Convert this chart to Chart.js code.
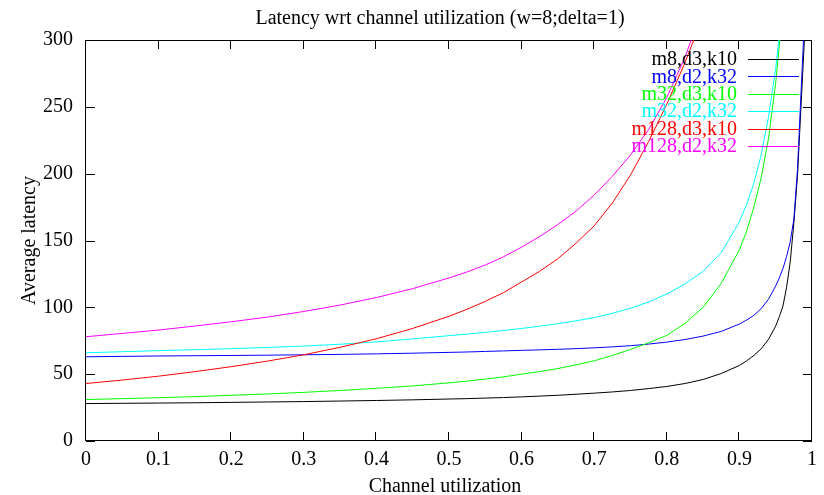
<!DOCTYPE html>
<html>
<head>
<meta charset="utf-8">
<script src="https://cdn.jsdelivr.net/npm/chart.js@4.4.1/dist/chart.umd.min.js"></script>
<style>
  html, body { margin: 0; padding: 0; background: #fff; }
  canvas { display: block; }
</style>
</head>
<body>
<canvas id="chart" width="824" height="495"></canvas>
<script>
// Channel utilization samples (shared x values for every curve)
const utilization = [0, 0.05, 0.1, 0.15, 0.2, 0.25, 0.3, 0.35, 0.4, 0.45, 0.5,
  0.525, 0.55, 0.575, 0.6, 0.625, 0.65, 0.675, 0.7, 0.725, 0.75, 0.775, 0.8, 0.825, 0.85, 0.875, 0.9,
  0.91, 0.92, 0.93, 0.94, 0.95, 0.955, 0.96, 0.965, 0.97, 0.975, 0.98, 0.985, 0.99];

// Average latency per configuration (null = curve has already left the plot)
const m8d3k10 = [28, 28.2, 28.4, 28.6, 28.9, 29.2, 29.5, 29.9, 30.3, 30.8, 31.4,
  31.7, 32.1, 32.5, 33, 33.6, 34.2, 35, 35.8, 36.7, 37.8, 39.2, 40.8, 43, 46, 50.5, 56.5,
  60, 64, 69, 76, 86, 93, 101, 115, 134, 163, 198, 252, 305];
const m8d2k32 = [63, 63.3, 63.6, 63.8, 64, 64.2, 64.5, 64.8, 65.2, 65.7, 66.3,
  66.6, 67, 67.4, 67.8, 68.2, 68.6, 69.1, 69.7, 70.4, 71.3, 72.5, 74, 75.9, 78.5, 82, 87.5,
  90.5, 94, 99, 106, 116, 122, 129, 138, 149, 166, 203, 262, 320];
const m32d3k10 = [31, 31.7, 32.4, 33.2, 34.2, 35.2, 36.4, 37.8, 39.4, 41.2, 43.5,
  44.8, 46.3, 48, 50, 52, 54.2, 57, 60, 64, 68.5, 73.5, 79, 88, 100, 118, 143,
  157, 175, 197, 226, 268, 296, 330, null, null, null, null, null, null];
const m32d2k32 = [66, 66.8, 67.6, 68.3, 69.1, 70, 71, 72.4, 74.1, 76.4, 78.8,
  80, 81.3, 82.7, 84.2, 85.9, 87.8, 89.9, 92.3, 95.5, 99.3, 104, 110, 117.5, 127, 141, 164,
  177, 193, 214, 242, 279, 303, null, null, null, null, null, null, null];
const m128d3k10 = [43, 45.6, 48.5, 51.9, 55.6, 59.8, 64.5, 70.1, 76.5, 84.2, 93.3,
  98.6, 104.5, 111, 119, 127, 136.4, 148, 161, 178, 199, 224, 252, 283, 318, null, null,
  null, null, null, null, null, null, null, null, null, null, null, null, null];
const m128d2k32 = [78, 80.5, 83, 86, 89.2, 92.7, 96.9, 101.7, 107.3, 114, 122,
  126.5, 131.7, 137.8, 145, 153, 162, 172, 184, 198, 214, 233, 257, 287, 325, null, null,
  null, null, null, null, null, null, null, null, null, null, null, null, null];

const seriesLabels = ['m8,d3,k10', 'm8,d2,k32', 'm32,d3,k10', 'm32,d2,k32', 'm128,d3,k10', 'm128,d2,k32'];
const seriesValues = [m8d3k10, m8d2k32, m32d3k10, m32d2k32, m128d3k10, m128d2k32];
const seriesColors = ['#000000', '#0000ff', '#00ff00', '#00ffff', '#ff0000', '#ff00ff'];

const xTicks = [0, 0.1, 0.2, 0.3, 0.4, 0.5, 0.6, 0.7, 0.8, 0.9, 1];
const yTicks = [0, 50, 100, 150, 200, 250, 300];

const chartTitle = 'Latency wrt channel utilization (w=8;delta=1)';
const xTitle = 'Channel utilization';
const yTitle = 'Average latency';

const FONT = '"Liberation Serif", "Times New Roman", serif';
const TICK_LEN = 9;

// Border box with inward ticks on all four sides, titles and key
const framePlugin = {
  id: 'frame',
  beforeDatasetsDraw(chart) {
    const { ctx, chartArea: a, scales: { x, y } } = chart;
    ctx.save();
    ctx.strokeStyle = '#000';
    ctx.lineWidth = 1;
    ctx.beginPath();
    ctx.rect(a.left - 0.5, a.top + 0.5, a.right - a.left, a.bottom - a.top - 1);
    yTicks.forEach(v => {
      const py = Math.round(y.getPixelForValue(v)) + 0.5;
      ctx.moveTo(a.left, py); ctx.lineTo(a.left + TICK_LEN, py);
      ctx.moveTo(a.right, py); ctx.lineTo(a.right - TICK_LEN, py);
    });
    xTicks.forEach(v => {
      const px = Math.round(x.getPixelForValue(v)) - 0.5;
      ctx.moveTo(px, a.bottom); ctx.lineTo(px, a.bottom - TICK_LEN);
      ctx.moveTo(px, a.top); ctx.lineTo(px, a.top + TICK_LEN);
    });
    ctx.stroke();
    ctx.restore();
  },
  afterDraw(chart) {
    const { ctx, chartArea: a } = chart;
    ctx.save();
    ctx.fillStyle = '#000';
    ctx.font = '20px ' + FONT;
    ctx.textAlign = 'center';
    ctx.textBaseline = 'alphabetic';
    ctx.fillText(chartTitle, 440, 24);
    ctx.fillText(xTitle, (a.left + a.right) / 2 - 4, 492);
    ctx.save();
    ctx.translate(30, (a.top + a.bottom) / 2);
    ctx.rotate(-Math.PI / 2);
    ctx.textBaseline = 'middle';
    ctx.fillText(yTitle, 0, 0);
    ctx.restore();

    // Key: right-aligned labels followed by a line sample
    ctx.textAlign = 'right';
    ctx.textBaseline = 'middle';
    seriesLabels.forEach((lab, i) => {
      const cy = 59 + i * 17.4;
      ctx.fillStyle = seriesColors[i];
      ctx.fillText(lab, 737, cy + 1);
      ctx.strokeStyle = seriesColors[i];
      ctx.lineWidth = 1;
      ctx.beginPath();
      ctx.moveTo(748, Math.round(cy) + 0.5);
      ctx.lineTo(799, Math.round(cy) + 0.5);
      ctx.stroke();
    });
    ctx.restore();
  }
};

const datasets = seriesValues.map((vals, i) => ({
  label: seriesLabels[i],
  data: utilization.map((u, j) => ({ x: u, y: vals[j] })),
  borderColor: seriesColors[i],
  backgroundColor: seriesColors[i],
  borderWidth: 1,
  pointRadius: 0,
  tension: 0,
  fill: false,
  spanGaps: false,
  clip: 0,
  order: seriesValues.length - i
}));

new Chart(document.getElementById('chart'), {
  type: 'line',
  data: { datasets },
  options: {
    responsive: false,
    animation: false,
    devicePixelRatio: 1,
    layout: { padding: { top: 40, right: 5, left: 0, bottom: 0 } },
    plugins: { legend: { display: false }, tooltip: { enabled: false } },
    scales: {
      x: {
        type: 'linear', min: 0, max: 1,
        afterBuildTicks(s) { s.ticks = xTicks.map(v => ({ value: v })); },
        ticks: { color: '#000', font: { family: FONT, size: 20 }, padding: 7, maxRotation: 0, autoSkip: false,
          callback: v => String(Math.round(v * 10) / 10) },
        grid: { display: false, drawTicks: false },
        border: { display: false },
        afterFit(s) { s.height = 54; }
      },
      y: {
        type: 'linear', min: 0, max: 300,
        afterBuildTicks(s) { s.ticks = yTicks.map(v => ({ value: v })); },
        ticks: { color: '#000', font: { family: FONT, size: 20 }, padding: 13 },
        grid: { display: false, drawTicks: false },
        border: { display: false },
        afterFit(s) { s.width = 86; }
      }
    }
  },
  plugins: [framePlugin]
});
</script>
</body>
</html>
